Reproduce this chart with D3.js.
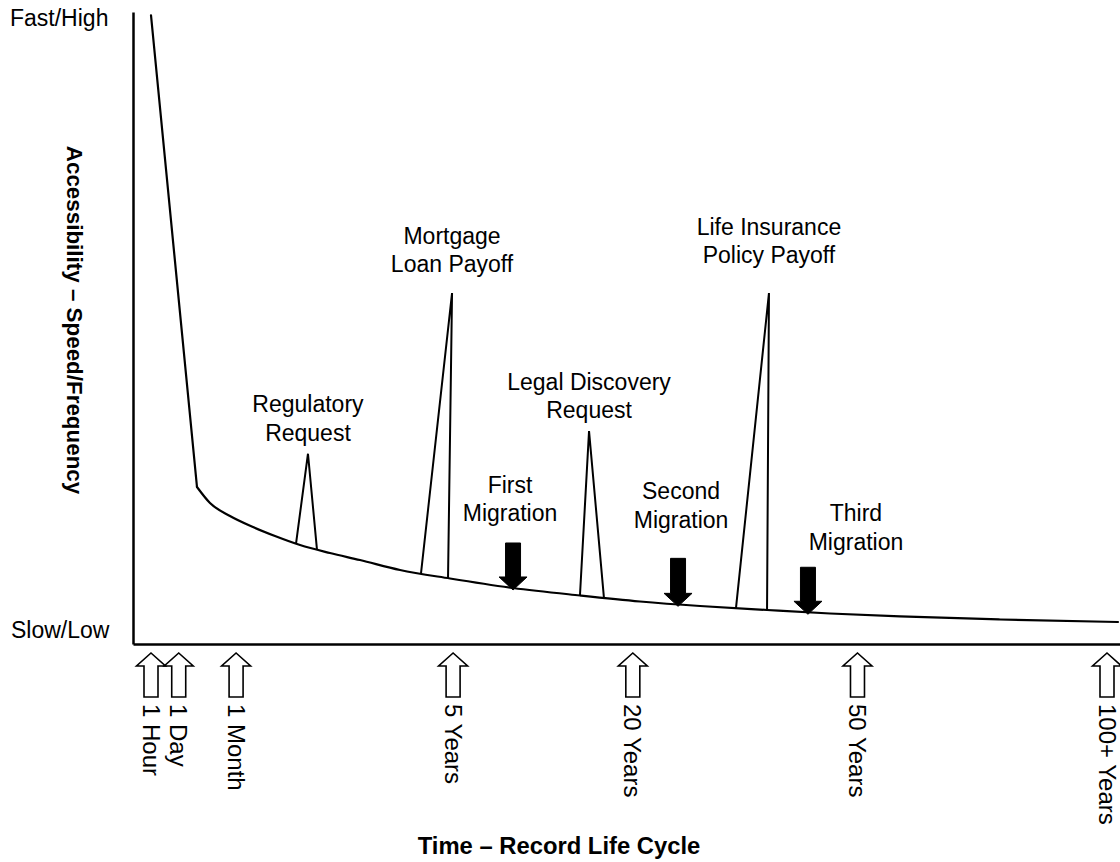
<!DOCTYPE html>
<html><head><meta charset="utf-8">
<script src="https://cdn.jsdelivr.net/npm/d3@7"></script>
<style>
body{margin:0;background:#fff}
svg{display:block}
text{font-family:"Liberation Sans",Arial,Helvetica,sans-serif;fill:#000}
</style>
</head><body>
<svg id="c" width="1120" height="862"></svg>
<script>
// ---------------- DATA ----------------
// Time milestones along the record life-cycle axis (position 0–100)
const timeLabels    = ["1 Hour", "1 Day", "1 Month", "5 Years", "20 Years", "50 Years", "100+ Years"];
const timePositions = [0, 2.9, 8.9, 31.6, 50.4, 73.9, 100];

// Accessibility curve (x: life-cycle position, y: accessibility 0–100)
// first two points: steep initial drop; the rest: slow decay
const curveX = [0, 4.81, 6.17, 8.26, 10.67, 12.97, 15.59, 18.72, 21.86, 26.05, 31.28, 37.87, 44.87, 51.15, 57.43, 64.44, 71.03, 78.35, 88.81, 101.15];
const curveY = [99.8, 24.92, 22.38, 20.32, 18.57, 17.14, 15.71, 14.44, 13.33, 11.75, 10.40, 8.89, 7.70, 6.75, 6.03, 5.40, 4.84, 4.37, 3.89, 3.49];

// Access events (spikes)
const eventLabels = [["Regulatory", "Request"], ["Mortgage", "Loan Payoff"], ["Legal Discovery", "Request"], ["Life Insurance", "Policy Payoff"]];
const eventStart  = [15.17, 28.24, 44.87, 61.19];
const eventPeakX  = [16.42, 31.49, 45.82, 64.64];
const eventPeak   = [30.2, 55.7, 33.8, 55.7];
const eventEnd    = [17.36, 31.07, 47.38, 64.44];

// Migrations
const migrationLabels = [["First", "Migration"], ["Second", "Migration"], ["Third", "Migration"]];
const migrationX      = [37.87, 55.13, 68.72];

const yTopLabel = "Fast/High", yBottomLabel = "Slow/Low";
const yTitle = "Accessibility \u2013 Speed/Frequency";
const xTitle = "Time \u2013 Record Life Cycle";

// ---------------- LAYOUT / STYLE ----------------
const FS = 23, LH = 28.5;
const eventLabelGap = [13, 21, 13, 30];          // px gap above peak to last label line
const migLabelDx    = [-3, 3, 48];               // px horizontal label shift
const migLabelGap   = [50, 59, 46];              // px gap from arrow top to last line baseline
const migArrowLen   = [47, 48, 47];

const svg = d3.select("#c");
const x = d3.scaleLinear().domain([0, 100]).range([151, 1107]);
const y = d3.scaleLinear().domain([0, 100]).range([644, 14]);
const axisX = 133, axisY = 644;

// axes (no ticks)
const xAxisScale = d3.scaleLinear().domain([0, 1]).range([axisX, 1120]);
const yAxisScale = d3.scaleLinear().domain([0, 1]).range([axisY, 12]);
svg.append("g").attr("transform", `translate(0,${axisY})`)
  .call(d3.axisBottom(xAxisScale).tickValues([]).tickSizeOuter(0))
  .select(".domain").attr("stroke", "#000").attr("stroke-width", 2.5);
svg.append("g").attr("transform", `translate(${axisX},0)`)
  .call(d3.axisLeft(yAxisScale).tickValues([]).tickSizeOuter(0))
  .select(".domain").attr("stroke", "#000").attr("stroke-width", 2.5);

// y end labels
svg.append("text").attr("x", 10).attr("y", 26).attr("font-size", FS).text(yTopLabel);
svg.append("text").attr("x", 11).attr("y", 638).attr("font-size", FS).text(yBottomLabel);

// axis titles
svg.append("text").attr("transform", "translate(75,320) rotate(90)")
  .attr("text-anchor", "middle").attr("dy", "0.35em")
  .attr("font-size", 22.4).attr("font-weight", "bold").text(yTitle);
svg.append("text").attr("x", 559).attr("y", 854).attr("text-anchor", "middle")
  .attr("font-size", 23.8).attr("font-weight", "bold").text(xTitle);

// curve: straight initial drop, then smooth decay
const pts = curveX.map((v, i) => [v, curveY[i]]);
const lin = d3.line().x(d => x(d[0])).y(d => y(d[1]));
const smooth = d3.line().x(d => x(d[0])).y(d => y(d[1])).curve(d3.curveMonotoneX);
svg.append("path").attr("d", lin(pts.slice(0, 2))).attr("fill", "none")
  .attr("stroke", "#000").attr("stroke-width", 2.2).attr("stroke-linecap", "round");
svg.append("path").attr("d", smooth(pts.slice(1))).attr("fill", "none")
  .attr("stroke", "#000").attr("stroke-width", 2.2).attr("stroke-linecap", "round");

const bis = d3.bisector(d => d).left;
function curveAt(v) {
  let i = Math.max(1, Math.min(curveX.length - 1, bis(curveX, v)));
  const t = (v - curveX[i - 1]) / (curveX[i] - curveX[i - 1]);
  return curveY[i - 1] + t * (curveY[i] - curveY[i - 1]);
}

// events
eventLabels.forEach((lab, i) => {
  const p = [[eventStart[i], curveAt(eventStart[i])], [eventPeakX[i], eventPeak[i]], [eventEnd[i], curveAt(eventEnd[i])]];
  svg.append("path").attr("d", lin(p))
    .attr("fill", "none").attr("stroke", "#000").attr("stroke-width", 2).attr("stroke-linejoin", "miter");
  const cx = x(eventPeakX[i]);
  const baseY = y(eventPeak[i]) - eventLabelGap[i];
  lab.forEach((t, j) => {
    svg.append("text").attr("x", cx).attr("y", baseY - (lab.length - 1 - j) * LH)
      .attr("text-anchor", "middle").attr("font-size", FS).text(t);
  });
});

// migration arrows (filled, pointing down onto curve)
migrationLabels.forEach((lab, i) => {
  const tx = x(migrationX[i]), ty = y(curveAt(migrationX[i])) + 2;
  const L = migArrowLen[i], hw = 14, sw = 7.5, hh = 13;
  const top = ty - L;
  const path = d3.path();
  path.moveTo(tx - sw, top); path.lineTo(tx + sw, top); path.lineTo(tx + sw, ty - hh);
  path.lineTo(tx + hw, ty - hh); path.lineTo(tx, ty); path.lineTo(tx - hw, ty - hh);
  path.lineTo(tx - sw, ty - hh); path.closePath();
  svg.append("path").attr("d", path.toString()).attr("fill", "#000").attr("stroke", "#000").attr("stroke-width", 1);
  const lx = tx + migLabelDx[i], by = top - migLabelGap[i] + LH;
  lab.forEach((t, j) => {
    svg.append("text").attr("x", lx).attr("y", by - (lab.length - 1 - j) * LH)
      .attr("text-anchor", "middle").attr("font-size", FS).text(t);
  });
});

// time milestones: hollow up-arrows and rotated labels
timeLabels.forEach((lab, i) => {
  const cx = x(timePositions[i]);
  const tip = 653, hh = 13, hw = 14.5, sw = 7, bottom = 697;
  const path = d3.path();
  path.moveTo(cx, tip); path.lineTo(cx + hw, tip + hh); path.lineTo(cx + sw, tip + hh);
  path.lineTo(cx + sw, bottom); path.lineTo(cx - sw, bottom); path.lineTo(cx - sw, tip + hh);
  path.lineTo(cx - hw, tip + hh); path.closePath();
  svg.append("path").attr("d", path.toString()).attr("fill", "#fff").attr("stroke", "#000").attr("stroke-width", 1.6);
  svg.append("text").attr("transform", `translate(${cx},704) rotate(90)`)
    .attr("dy", "0.35em").attr("font-size", 24).text(lab);
});
</script>
</body></html>
